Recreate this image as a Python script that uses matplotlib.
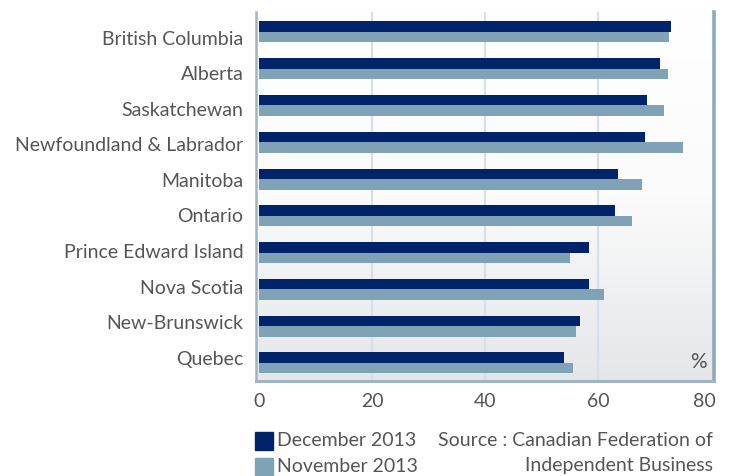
import matplotlib
matplotlib.use("Agg")
import matplotlib.pyplot as plt
import numpy as np
from matplotlib.patches import Rectangle
from matplotlib.colors import LinearSegmentedColormap
from matplotlib.transforms import ScaledTranslation

provinces = ["British Columbia", "Alberta", "Saskatchewan", "Newfoundland & Labrador",
             "Manitoba", "Ontario", "Prince Edward Island", "Nova Scotia",
             "New-Brunswick", "Quebec"]
dec_2013 = [72.9, 71.0, 68.7, 68.3, 63.5, 63.0, 58.4, 58.4, 56.8, 54.0]
nov_2013 = [72.6, 72.4, 71.7, 75.0, 67.8, 66.0, 55.0, 61.1, 56.1, 55.6]
xticks = [0, 20, 40, 60, 80]
series_names = ["December 2013", "November 2013"]

DARK = "#00236a"
LIGHT = "#80a2b7"
TXT = "#555555"
FONT = ["Lato", "DejaVu Sans"]
plt.rcParams["font.family"] = FONT
FS = 14

fig = plt.figure(figsize=(7.3, 4.77), dpi=100)
ax = fig.add_axes([256/730, 1-382/477, 458/730, 369/477])

y = np.arange(len(provinces))
h = 0.285
ax.barh(y - h/2, dec_2013, height=h, color=DARK, zorder=3)
ax.barh(y + h/2, nov_2013, height=h, color=LIGHT, zorder=3)

xmin, xmax = -0.53, 80.53
ymin, ymax = 9.49, -0.54
ax.set_xlim(xmin, xmax)
ax.set_ylim(ymin, ymax)

# gradient background
grad = np.linspace(0, 1, 256).reshape(-1, 1)
cmap = LinearSegmentedColormap.from_list("bg", ["#ffffff", "#fbfbfb", "#e4e6e8"])
ax.imshow(grad, cmap=cmap, aspect="auto", extent=[xmin, xmax, ymin, ymax],
          origin="upper", zorder=0)

for xv in xticks[1:-1]:
    ax.axvline(xv, color="#d6e0e8", lw=1.6, zorder=1)

# category labels in the original are spaced slightly tighter than the bars
label_pos = 0.136 + y * 0.9655
ax.set_yticks(label_pos)
ax.set_yticklabels(provinces, fontsize=FS, color=TXT)
ax.set_xticks(xticks)
ax.set_xticklabels([str(v) for v in xticks], fontsize=FS, color=TXT)
ax.tick_params(length=0, pad=9)
ax.tick_params(axis="x", pad=8)
last = ax.get_xticklabels()[-1]
last.set_horizontalalignment("right")
last.set_transform(last.get_transform() + ScaledTranslation(0.05, 0, fig.dpi_scale_trans))

ax.spines["top"].set_visible(False)
ax.spines["left"].set_color("#9fb4c4")
ax.spines["left"].set_linewidth(1.8)
ax.spines["right"].set_color("#8eaabd")
ax.spines["right"].set_linewidth(2.6)
ax.spines["bottom"].set_color("#9fb4c4")
ax.spines["bottom"].set_linewidth(2.2)

ax.text(0.985, 0.055, "%", transform=ax.transAxes, ha="right", va="center",
        fontsize=15, color=TXT)

# legend
fig.patches.append(Rectangle((255/730, 1-451/477), 18/730, 18/477,
                             transform=fig.transFigure, color=DARK))
fig.patches.append(Rectangle((255/730, 1-477/477), 18/730, 18/477,
                             transform=fig.transFigure, color=LIGHT))
fig.text(277/730, 1-441/477, series_names[0], fontsize=FS, color=TXT, va="center")
fig.text(277/730, 1-467/477, series_names[1], fontsize=FS, color=TXT, va="center")
fig.text(713/730, 1-441/477, "Source : Canadian Federation of", fontsize=FS,
         color=TXT, va="center", ha="right")
fig.text(713/730, 1-466/477, "Independent Business", fontsize=FS,
         color=TXT, va="center", ha="right")

fig.savefig("out.png", dpi=100)
